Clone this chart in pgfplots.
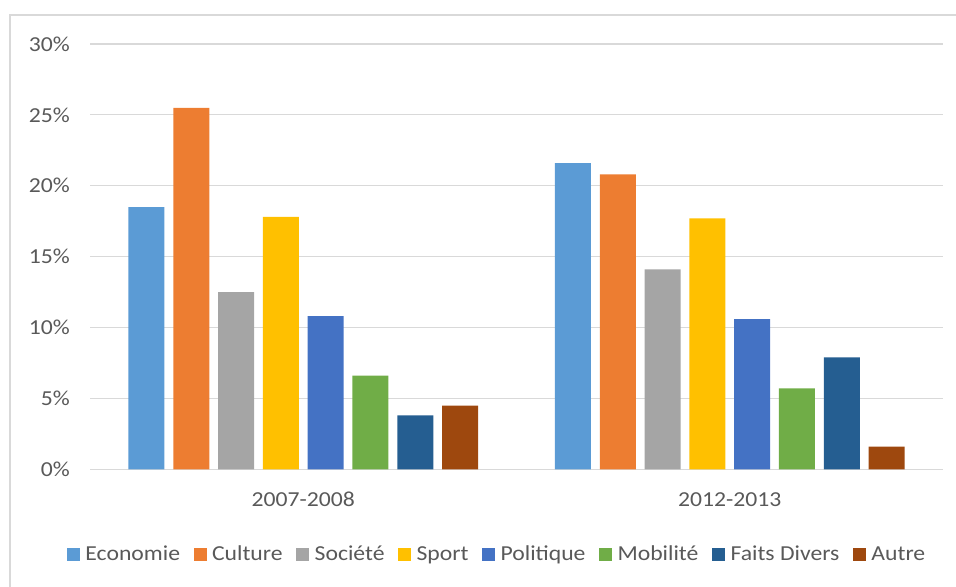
\documentclass[border=0pt]{standalone}
\usepackage{fontspec}
\setmainfont[FakeStretch=1.11]{Carlito}
\usepackage{pgfplots}
\usepackage{pgfplotstable}
\pgfplotsset{compat=1.18}
\definecolor{cEco}{HTML}{5B9BD5}
\definecolor{cCul}{HTML}{ED7D31}
\definecolor{cSoc}{HTML}{A5A5A5}
\definecolor{cSpo}{HTML}{FFC000}
\definecolor{cPol}{HTML}{4472C4}
\definecolor{cMob}{HTML}{70AD47}
\definecolor{cFai}{HTML}{255E91}
\definecolor{cAut}{HTML}{9E480E}
\definecolor{gridc}{HTML}{D9D9D9}
\definecolor{txt}{HTML}{595959}
\pgfplotstableread{
x eco cul soc spo pol mob fai aut
0 18.5 25.5 12.5 17.8 10.8 6.6 3.8 4.5
1 21.6 20.8 14.1 17.7 10.6 5.7 7.9 1.6
}\datatable
\begin{document}
\begin{tikzpicture}
\path[use as bounding box] (0pt,0pt) rectangle (717pt,-439.5pt);
\draw[gridc, line width=1.6pt] (7.5pt,-445pt) -- (7.5pt,-11.25pt) -- (720pt,-11.25pt);
\begin{axis}[
  at={(67.5pt,-351.975pt)}, anchor=south west,
  scale only axis, width=639.75pt, height=319pt,
  ymin=0, ymax=30, xmin=-0.5, xmax=1.5,
  ybar=6.6pt, bar width=27pt,
  axis line style={draw=none},
  major tick length=0pt,
  ymajorgrids, major grid style={gridc, line width=0.8pt},
  ytick={0,5,10,15,20,25,30},
  yticklabels={0\%,5\%,10\%,15\%,20\%,25\%,30\%},
  xtick={0,1}, xticklabels={2007-2008,2012-2013},
  ticklabel style={font=\fontsize{16pt}{19pt}\selectfont, text=txt},
  yticklabel style={inner sep=0pt, anchor=east, xshift=-15pt},
  xticklabel style={inner sep=0pt, anchor=north, yshift=-17pt},
  legend columns=8,
  legend style={at={(0.4777,-0.2003)}, anchor=center, draw=none, fill=none,
    font=\fontsize{16pt}{19pt}\selectfont, text=txt,
    /tikz/every odd column/.append style={column sep=2pt},
    /tikz/every even column/.append style={column sep=8.2pt},
    legend cell align=left, inner sep=0pt},
  legend image code/.code={\fill[#1] (0pt,-4.9pt) rectangle (9.8pt,4.9pt);},
  every axis plot/.append style={draw=none},
]
\addplot[fill=cEco] table[x=x,y=eco]{\datatable};
\addplot[fill=cCul] table[x=x,y=cul]{\datatable};
\addplot[fill=cSoc] table[x=x,y=soc]{\datatable};
\addplot[fill=cSpo] table[x=x,y=spo]{\datatable};
\addplot[fill=cPol] table[x=x,y=pol]{\datatable};
\addplot[fill=cMob] table[x=x,y=mob]{\datatable};
\addplot[fill=cFai] table[x=x,y=fai]{\datatable};
\addplot[fill=cAut] table[x=x,y=aut]{\datatable};
\legend{Economie,Culture,Société,Sport,Politique,Mobilité,Faits Divers,Autre}
\end{axis}
\end{tikzpicture}
\end{document}
